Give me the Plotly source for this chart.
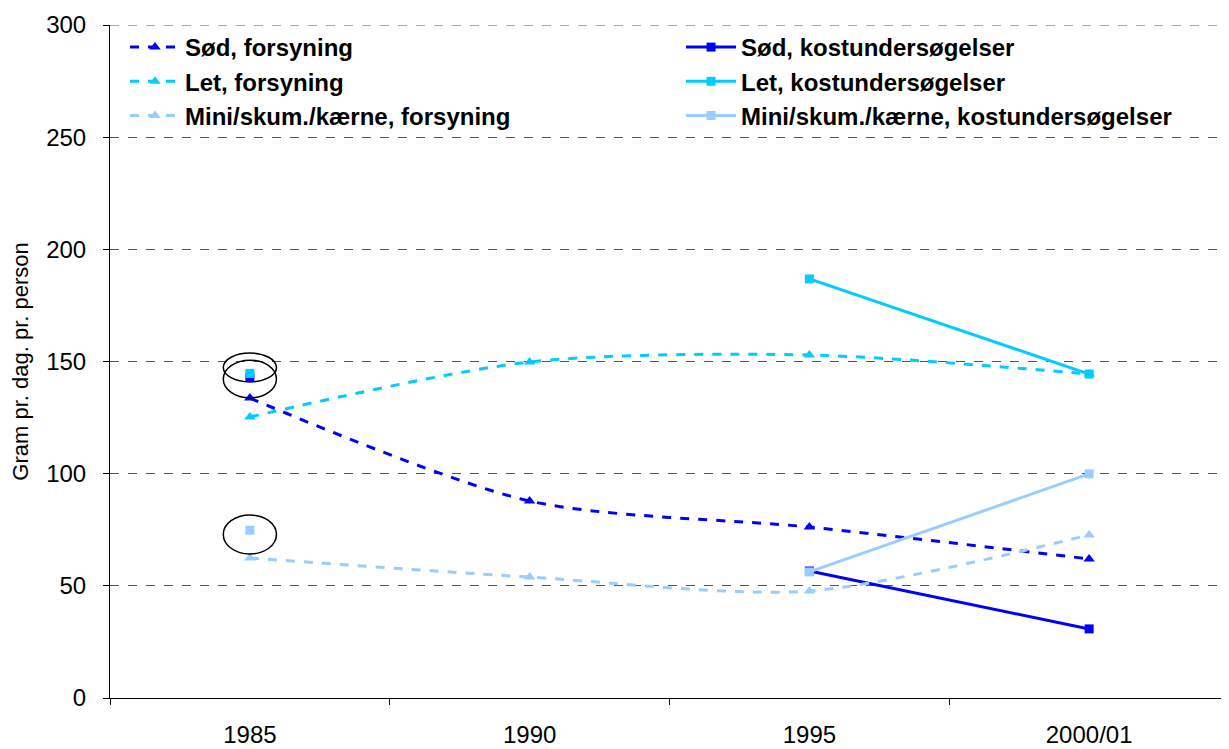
import plotly.graph_objects as go

categories = ["1985", "1990", "1995", "2000/01"]

sod_forsyning = [133.7, 87.8, 76.2, 62.0]
let_forsyning = [125.3, 149.8, 152.9, 144.4]
mini_forsyning = [62.4, 53.9, 47.7, 72.7]

sod_kost = [143.0, None, 56.6, 30.8]
let_kost = [144.7, None, 186.8, 144.4]
mini_kost = [74.8, None, 56.2, 99.9]

BLUE = "#0000FF"
CYAN = "#00CCFF"
LIGHT = "#99CCFF"

FONT = "Liberation Sans, Arial, sans-serif"

fig = go.Figure()

def forsyning(name, y, color):
    fig.add_trace(go.Scatter(
        x=categories, y=y, name=name, mode="lines+markers", legend="legend",
        line=dict(color=color, width=3, dash="dash", shape="spline", smoothing=0.8),
        marker=dict(symbol="triangle-up", size=10, color=color),
    ))

def kost(name, y, color):
    fig.add_trace(go.Scatter(
        x=categories, y=y, name=name, mode="lines+markers", legend="legend2",
        line=dict(color=color, width=3), connectgaps=False,
        marker=dict(symbol="square", size=9, color=color),
    ))

forsyning("Sød, forsyning", sod_forsyning, BLUE)
kost("Sød, kostundersøgelser", sod_kost, BLUE)
forsyning("Let, forsyning", let_forsyning, CYAN)
kost("Let, kostundersøgelser", let_kost, CYAN)
forsyning("Mini/skum./kærne, forsyning", mini_forsyning, LIGHT)
kost("Mini/skum./kærne, kostundersøgelser", mini_kost, LIGHT)

# ellipses around the 1985 survey points
ellipses = [(140.9, 153.8), (133.8, 150.6), (64.2, 81.6)]
for y0, y1 in ellipses:
    fig.add_shape(type="circle", xref="x", yref="y", x0=-0.095, x1=0.095,
                  y0=y0, y1=y1, line=dict(color="black", width=1.5))

# dashed top gridline at 300
fig.add_shape(type="line", xref="paper", yref="y", x0=0, x1=1, y0=300, y1=300,
              line=dict(color="#555555", width=1, dash="dash"))

legend_common = dict(
    orientation="v", yanchor="top", xanchor="left",
    font=dict(size=24, family=FONT, weight="bold"),
    bgcolor="rgba(255,255,255,0)", tracegroupgap=0, itemwidth=50,
)

fig.update_layout(
    width=1221, height=741,
    margin=dict(l=102, r=0, t=17, b=51),
    plot_bgcolor="white", paper_bgcolor="white",
    font=dict(family=FONT, color="black", size=24),
    showlegend=True,
    legend=dict(x=0.0134, y=1.0, **legend_common),
    legend2=dict(x=0.5103, y=1.0, **legend_common),
    xaxis=dict(
        type="category", tickson="boundaries", ticks="outside", ticklen=6,
        tickcolor="black", showline=True, linecolor="black", linewidth=1,
        showgrid=False, range=[-0.5, 3.5], tickfont=dict(size=24),
        ticklabelstandoff=15,
    ),
    yaxis=dict(
        range=[0, 300], dtick=50, ticks="outside", ticklen=6, tickcolor="black",
        showline=True, linecolor="black", linewidth=1,
        showgrid=True, gridcolor="#555555", griddash="dash", gridwidth=1,
        zeroline=False, tickfont=dict(size=24), ticklabelstandoff=12,
        title=dict(text="Gram pr. dag. pr. person", font=dict(size=22), standoff=14),
    ),
)

fig.write_html("out.html")
